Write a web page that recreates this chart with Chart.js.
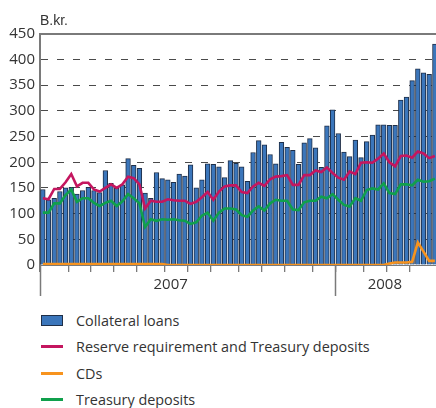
<!DOCTYPE html>
<html>
<head>
<meta charset="utf-8">
<script src="https://cdn.jsdelivr.net/npm/chart.js@4.4.1/dist/chart.umd.min.js"></script>
<style>
  html, body { margin: 0; padding: 0; background: #fff; overflow: hidden; }
  #wrap { position: relative; width: 436px; height: 408px; font-family: "Open Sans", sans-serif; color: #333; }
  #chartBox { position: absolute; left: 0; top: 0; width: 436px; height: 300px; }
  #legend { position: absolute; left: 41px; top: 307px; }
  .item { height: 26.5px; display: flex; align-items: center; font-size: 14.4px; white-space: nowrap; }
  .sym { width: 22px; margin-right: 13px; box-sizing: border-box; }
</style>
</head>
<body>
<div id="wrap">
  <div id="chartBox"><canvas id="myChart" width="436" height="300"></canvas></div>
  <div id="legend"></div>
</div>
<script>
// Vikulegar tölur, ma.kr.
const collateral = [147, 127, 130, 143, 150, 151, 138, 145, 151, 145, 141, 184, 159, 149, 156, 207, 194, 188, 140, 130, 180, 168, 166,
    161, 177, 173, 195, 150, 166, 197, 196, 191, 170, 203, 198, 191, 163, 219, 242, 234, 215, 197, 239, 229, 223, 196,
    238, 246, 228, 190, 271, 302, 256, 220, 211, 243, 209, 240, 253, 273, 273, 272, 272, 321, 327, 359, 382, 374, 371, 430];
const reserve = [130, 128, 148, 148, 161, 177, 153, 160, 160, 147, 143, 150, 157, 150, 157, 172, 169, 157, 110, 125, 123, 123, 128,
    126, 125, 125, 119, 123, 132, 142, 127, 143, 153, 155, 155, 142, 140, 153, 160, 154, 167, 172, 173, 175, 156, 156,
    175, 175, 184, 181, 190, 179, 170, 166, 182, 177, 199, 200, 199, 207, 217, 200, 192, 212, 213, 209, 221, 217, 208, 212];
const cds = [2, 2, 2, 2, 2, 2, 2, 2, 2, 2, 2, 2, 2, 2, 2, 2, 2, 2, 2, 2, 2, 2, 0,
    0, 0, 0, 0, 0, 0, 0, 0, 0, 0, 0, 0, 0, 0, 0, 0, 0, 0, 0, 0, 0, 0, 0,
    0, 0, 0, 0, 0, 0, 0, 0, 0, 0, 0, 0, 0, 0, 0, 3, 5, 5, 5, 6, 44, 26, 8, 8];
const treasury = [102, 102, 120, 120, 136, 147, 123, 130, 130, 121, 115, 121, 125, 115, 124, 138, 130, 120, 74, 89, 86, 89, 88,
    89, 87, 86, 80, 83, 96, 102, 86, 102, 110, 110, 108, 97, 94, 106, 114, 106, 120, 127, 125, 125, 108, 107,
    122, 125, 125, 133, 130, 138, 127, 117, 114, 130, 125, 146, 149, 147, 159, 140, 138, 157, 157, 155, 166, 162, 163, 168];

// Ás: vikur, mánaðaskil og ár
const monthTicks = [-0.5, 4.5, 8.5, 12.5, 16.5, 21.5, 25.5, 29.5, 34.5, 38.5, 42.5, 47.5, 51.5, 56.5, 60.5, 64.5];
const yearTicks = [-0.5, 51.5];
const yearLabels = ['2007', '2008'];
const yearLabelPos = [22.5, 60.2];
const yTicks = [0, 50, 100, 150, 200, 250, 300, 350, 400, 450];

const weekPoints = arr => arr.map((v, i) => ({ x: i, y: v }));

const series = [
    { label: 'Collateral loans', kind: 'bar', data: collateral, color: '#3b76bb' },
    { label: 'Reserve requirement and Treasury deposits', kind: 'line', data: reserve, color: '#c4165f' },
    { label: 'CDs', kind: 'line', data: cds, color: '#f7931e' },
    { label: 'Treasury deposits', kind: 'line', data: treasury, color: '#10a04c' }
];

// Löng strik við áramót
const yearTickPlugin = {
    id: 'yearTicks',
    afterDraw(chart) {
        const x = chart.scales.x;
        const c = chart.ctx;
        c.save();
        c.strokeStyle = '#7a7a7a';
        c.lineWidth = 1.5;
        yearTicks.forEach(v => {
            const px = Math.round(x.getPixelForValue(v)) + 0.5;
            c.beginPath();
            c.moveTo(px, x.top);
            c.lineTo(px, x.top + 31);
            c.stroke();
        });
        c.restore();
    }
};

const ctx = document.getElementById('myChart').getContext('2d');
const myChart = new Chart(ctx, {
    type: 'bar',
    data: {
        datasets: series.map((s, i) => s.kind === 'bar' ? {
            type: 'bar',
            label: s.label,
            data: weekPoints(s.data),
            backgroundColor: s.color,
            borderColor: '#1f2f48',
            borderWidth: 1,
            barThickness: 4.7,
            order: 10
        } : {
            type: 'line',
            label: s.label,
            data: weekPoints(s.data),
            borderColor: s.color,
            backgroundColor: s.color,
            borderWidth: 2.6,
            pointRadius: 0,
            tension: 0,
            order: i
        })
    },
    options: {
        responsive: false,
        animation: false,
        layout: { padding: { top: 0, right: 0, bottom: 2, left: 0 } },
        font: { family: '"Open Sans", sans-serif' },
        scales: {
            x: {
                type: 'linear',
                offset: false,
                min: -0.5,
                max: 69.2,
                afterBuildTicks: scale => {
                    scale.ticks = monthTicks.concat(yearLabelPos).sort((a, b) => a - b).map(v => ({ value: v }));
                },
                ticks: {
                    autoSkip: false,
                    maxRotation: 0,
                    padding: 4,
                    color: '#333',
                    font: { size: 15 },
                    callback: value => {
                        const k = yearLabelPos.indexOf(value);
                        return k >= 0 ? yearLabels[k] : '';
                    }
                },
                grid: {
                    offset: false,
                    drawOnChartArea: false,
                    tickLength: 7,
                    lineWidth: 1.3,
                    color: c => (c.tick && yearLabelPos.indexOf(c.tick.value) >= 0) ? 'rgba(0,0,0,0)' : '#7a7a7a'
                },
                border: { color: '#7a7a7a', width: 1 }
            },
            y: {
                min: 0,
                max: 450,
                z: 1,
                afterBuildTicks: scale => { scale.ticks = yTicks.map(v => ({ value: v })); },
                afterFit: scale => { scale.width = 40; },
                ticks: { padding: 5, color: '#333', font: { size: 15 } },
                grid: {
                    drawTicks: false,
                    color: c => {
                        if (!c.tick) return '#555';
                        if (c.tick.value === 0) return 'rgba(0,0,0,0)';
                        return c.tick.value === 450 ? '#7a7a7a' : '#4a4a4a';
                    },
                    lineWidth: c => (c.tick && c.tick.value === 450) ? 2 : 1
                },
                border: {
                    color: '#7a7a7a',
                    width: 2,
                    dash: c => (c.tick && c.tick.value !== 450) ? [7, 9] : []
                }
            }
        },
        plugins: {
            legend: { display: false },
            tooltip: { enabled: false },
            title: {
                display: true,
                text: 'B.kr.',
                align: 'start',
                position: 'top',
                fullSize: false,
                color: '#333',
                font: { size: 14, weight: 'normal' },
                padding: { top: 13, bottom: 4 }
            }
        }
    },
    plugins: [yearTickPlugin]
});

// Skýringar
const legend = document.getElementById('legend');
series.forEach(s => {
    const row = document.createElement('div');
    row.className = 'item';
    const sym = document.createElement('span');
    sym.className = 'sym';
    if (s.kind === 'bar') {
        sym.style.height = '11px';
        sym.style.background = s.color;
        sym.style.border = '1px solid #1f2f48';
    } else {
        sym.style.height = '3px';
        sym.style.background = s.color;
    }
    const txt = document.createElement('span');
    txt.textContent = s.label;
    row.appendChild(sym);
    row.appendChild(txt);
    legend.appendChild(row);
});
</script>
</body>
</html>
